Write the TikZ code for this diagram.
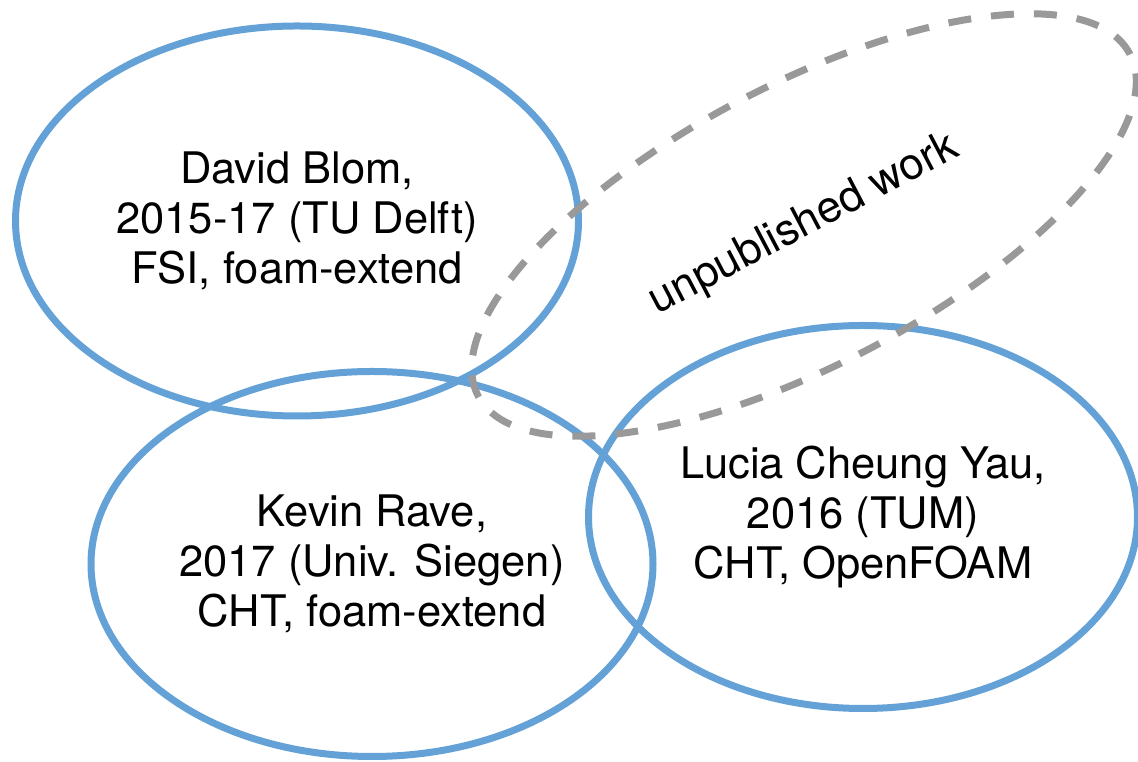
\documentclass[tikz,border=0pt]{standalone}
\usepackage{fontspec}
\setmainfont{TeX Gyre Heros}
\usetikzlibrary{shapes.geometric}
\definecolor{vennblue}{RGB}{99,161,214}
\definecolor{venngray}{RGB}{153,153,153}
\begin{document}
\begin{tikzpicture}[x=1pt, y=1pt,
  person/.style={ellipse, draw=vennblue, line width=7pt, inner sep=0pt,
    align=center, font=\fontsize{43.5}{50}\selectfont},
  unpub/.style={ellipse, draw=venngray, line width=7pt,
    dash pattern=on 23pt off 20pt, inner sep=0pt,
    font=\fontsize{44}{50}\selectfont}]
  \useasboundingbox (0,0) rectangle (1138,762);
  \node[person, minimum width=563pt, minimum height=390pt] (blom) at (297,541)
    {David Blom,\\2015-17 (TU Delft)\\FSI, foam-extend};
  \node[person, minimum width=562pt, minimum height=385pt] (rave) at (372,198)
    {Kevin Rave,\\2017 (Univ. Siegen)\\CHT, foam-extend};
  \node[person, minimum width=549pt, minimum height=383pt] (yau) at (863,245)
    {Lucia Cheung Yau,\\2016 (TUM)\\CHT, OpenFOAM};
  \node[unpub, rotate=27.7, minimum width=736pt, minimum height=280pt] (unpublished)
    at (804,537) {unpublished work};
\end{tikzpicture}
\end{document}
